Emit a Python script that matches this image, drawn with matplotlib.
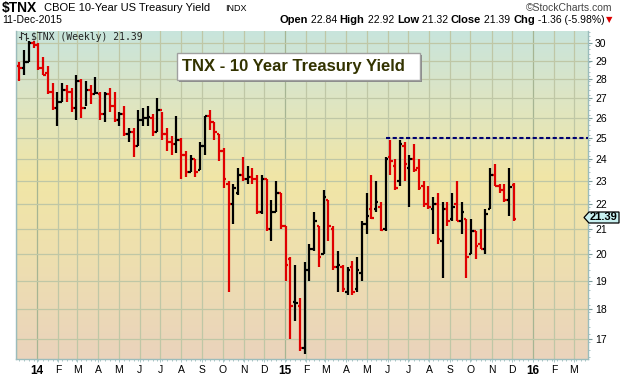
import numpy as np
import pandas as pd
import matplotlib
matplotlib.use('Agg')
import matplotlib.pyplot as plt
import matplotlib.dates as mdates
from matplotlib.colors import LinearSegmentedColormap
from matplotlib.patches import Rectangle, Polygon
from matplotlib.lines import Line2D

plt.rcParams['font.family'] = ['Liberation Sans', 'DejaVu Sans']

# weekly bars, week starting Monday 9-Dec-2013 .. 7-Dec-2015 (TNX = yield x 10)
week_start = pd.date_range('2013-12-09', periods=105, freq='7D')

opens = [28.7, 28.6, 28.9, 30.0, 29.9, 28.6, 28.3, 27.3, 26.5, 26.8,
         27.4, 27.3, 26.5, 27.9, 26.5, 27.4, 27.2, 27.2, 26.2, 27.2,
         26.6, 25.9, 26.2, 25.2, 25.3, 24.6, 25.9, 26.0, 26.0, 25.3,
         26.4, 25.2, 24.8, 24.7, 24.9, 24.2, 23.4, 24.0, 23.5, 24.6,
         26.1, 25.8, 25.2, 24.4, 22.9, 22.0, 22.5, 23.3, 23.1, 23.2,
         23.1, 21.7, 23.1, 21.0, 21.7, 22.5, 21.1, 19.8, 18.25, 18.1,
         16.7, 19.4, 20.2, 21.1, 20.0, 22.2, 21.0, 19.5, 19.5, 18.6,
         19.5, 18.7, 19.3, 21.2, 21.8, 21.8, 21.9, 21.0, 24.1, 23.7,
         23.0, 24.6, 23.6, 24.0, 23.6, 22.8, 22.0, 21.8, 22.0, 20.5,
         21.8, 21.4, 22.0, 21.3, 21.4, 20.0, 20.9, 20.4, 20.2, 21.8,
         23.3, 22.8, 22.6, 22.2, 22.84]
highs = [28.9, 29.6, 30.1, 30.1, 30.0, 29.2, 28.7, 27.8, 27.3, 27.8,
         27.7, 27.5, 28.2, 28.0, 27.9, 27.7, 28.1, 27.3, 27.3, 27.5,
         27.3, 26.3, 26.6, 25.5, 25.5, 26.4, 26.5, 26.6, 26.2, 27.0,
         26.3, 25.5, 25.1, 26.1, 25.0, 24.4, 24.2, 24.0, 24.8, 26.1,
         26.4, 25.8, 25.2, 24.5, 23.0, 22.9, 23.6, 24.1, 23.7, 23.6,
         23.3, 23.3, 23.1, 22.2, 23.0, 22.5, 21.1, 19.9, 19.6, 18.4,
         19.7, 20.4, 21.7, 21.1, 22.6, 22.2, 21.1, 20.1, 19.6, 19.5,
         19.75, 19.9, 21.3, 22.5, 23.3, 23.0, 22.1, 24.1, 24.9, 24.0,
         24.9, 24.8, 24.2, 24.7, 24.0, 23.0, 22.8, 22.3, 22.5, 22.1,
         22.1, 22.5, 23.0, 22.1, 21.4, 21.4, 20.9, 21.0, 21.8, 23.6,
         23.8, 22.9, 22.9, 23.6, 22.92]
lows = [27.9, 28.2, 28.9, 29.7, 28.5, 28.2, 27.2, 26.4, 25.6, 26.8,
        26.8, 26.3, 25.9, 26.0, 26.6, 26.7, 27.2, 25.9, 25.8, 26.3,
        25.8, 25.6, 25.1, 24.8, 24.1, 24.6, 25.6, 25.6, 25.1, 25.3,
        24.9, 24.4, 24.2, 24.3, 23.1, 23.2, 23.4, 23.2, 23.5, 24.2,
        25.4, 24.9, 23.9, 22.7, 18.6, 21.2, 22.4, 23.0, 22.9, 22.9,
        21.6, 21.6, 20.9, 20.5, 21.7, 21.0, 19.0, 17.0, 17.6, 16.6,
        16.5, 19.0, 20.1, 19.5, 20.0, 20.5, 19.4, 18.6, 18.6, 18.5,
        18.5, 18.6, 19.0, 20.8, 21.4, 21.7, 20.9, 20.9, 23.3, 22.6,
        22.8, 23.0, 21.9, 23.4, 22.6, 21.9, 21.8, 20.8, 20.4, 19.1,
        21.1, 21.3, 21.3, 20.8, 19.1, 20.0, 19.8, 20.2, 20.0, 21.8,
        22.8, 22.5, 22.1, 21.5, 21.32]
closes = [28.6, 28.9, 30.0, 29.9, 28.6, 28.2, 27.3, 26.5, 26.8, 27.4,
          27.3, 26.5, 27.9, 26.5, 27.4, 27.2, 27.25, 26.2, 27.2, 26.6,
          25.9, 26.2, 25.2, 25.3, 24.6, 25.9, 26.0, 26.05, 25.3, 26.4,
          25.2, 24.8, 24.7, 24.9, 24.2, 23.4, 24.0, 23.4, 24.6, 26.1,
          25.8, 25.3, 24.4, 23.1, 22.0, 22.7, 23.3, 23.1, 23.2, 23.1,
          21.7, 23.1, 21.0, 21.7, 22.5, 21.1, 19.6, 18.1, 18.2, 16.7,
          19.4, 20.2, 21.3, 19.9, 22.3, 21.1, 19.5, 19.6, 18.7, 19.4,
          18.6, 19.4, 21.2, 21.5, 21.45, 22.1, 20.95, 24.0, 23.9, 22.7,
          24.7, 23.8, 24.0, 23.5, 22.7, 22.0, 21.9, 22.0, 20.6, 21.8,
          21.3, 21.9, 21.3, 21.7, 19.9, 20.9, 20.3, 20.2, 21.6, 23.3,
          22.8, 22.6, 22.2, 22.75, 21.39]
prev_close = 28.8

resistance_level = 25.0
resistance_start = '2015-05-29'

y_ticks = list(range(17, 31))
chart_title = 'TNX - 10 Year Treasury Yield'
legend_text = '$TNX (Weekly) 21.39'
last_label = '21.39'
header_pieces = [('Open', 'bold'), (' 22.84 ', 'normal'), ('High', 'bold'), (' 22.92 ', 'normal'),
                 ('Low', 'bold'), (' 21.32 ', 'normal'), ('Close', 'bold'), (' 21.39 ', 'normal'),
                 ('Chg', 'bold'), (' -1.36 (-5.98%)', 'normal')]

W, H = 620, 376
fig = plt.figure(figsize=(W / 100, H / 100), dpi=100)
fig.patch.set_facecolor('white')

def fx(px):
    return px / W

def fy(py):
    return 1 - py / H

left, right, top, bottom = 16, 588, 31, 359
ax = fig.add_axes([fx(left), fy(bottom), fx(right - left), (bottom - top) / H])

# gradient background
cmap = LinearSegmentedColormap.from_list('bg', [(0.0, '#ead3bc'), (0.33, '#eee0ae'), (0.55, '#f1e6a6'),
                                                (0.8, '#dde5c4'), (1.0, '#c8e4dc')])
grad = np.linspace(0, 1, 256).reshape(-1, 1)
ax.imshow(grad, cmap=cmap, aspect='auto', extent=[0, 1, 0, 1], origin='lower',
          transform=ax.transAxes, zorder=0)

ax.set_yscale('log')
ax.set_ylim(16.35, 30.7)
ax.set_xlim(mdates.date2num(pd.Timestamp('2013-12-01')), mdates.date2num(pd.Timestamp('2016-03-22')))

# grid
months = pd.date_range('2013-12-01', '2016-03-01', freq='MS')
for m in months:
    xm = mdates.date2num(m)
    col = '#a6b593' if m.month == 1 else '#bfc7a6'
    ax.axvline(xm, color=col, lw=0.9, zorder=1)
for v in y_ticks:
    ax.axhline(v, color='#bfc7a6', lw=0.9, zorder=1)

# OHLC bars
x = mdates.date2num(week_start - pd.Timedelta(days=3))
c = np.array(closes)
prior = np.r_[prev_close, c[:-1]]
colors = np.where(c >= prior, 'black', '#e00000')
lw = 1.6
ax.vlines(x, lows, highs, colors=colors, lw=lw, zorder=3, capstyle='butt')
ax.hlines(opens, x - 3.6, x, colors=colors, lw=lw, zorder=3, capstyle='butt')
ax.hlines(closes, x, x + 3.6, colors=colors, lw=lw, zorder=3, capstyle='butt')

# resistance line
ax.hlines(resistance_level, mdates.date2num(pd.Timestamp(resistance_start)), ax.get_xlim()[1],
          colors='#000070', lw=1.5, linestyles=(0, (2, 1.2)), zorder=4)

# axes cosmetics
for s in ax.spines.values():
    s.set_color('#9bbcbc')
    s.set_linewidth(1.0)
ax.spines['top'].set_visible(False)
ax.yaxis.tick_right()
ax.set_yticks(y_ticks)
ax.set_yticklabels([str(v) for v in y_ticks])
ax.yaxis.set_minor_locator(matplotlib.ticker.FixedLocator(np.arange(16.4, 30.7, 0.25)))
ax.yaxis.set_minor_formatter(matplotlib.ticker.NullFormatter())
ax.tick_params(axis='y', which='major', length=3, width=0.8, color='#7a9a9a', pad=2, labelsize=7.5)
ax.tick_params(axis='y', which='minor', length=1.5, width=0.6, color='#9bbcbc')

tick_months = [m for m in months if m >= pd.Timestamp('2014-01-01')]
ax.set_xticks(mdates.date2num(tick_months))
ax.set_xticklabels([m.strftime('%y') if m.month == 1 else m.strftime('%b')[0] for m in tick_months])
for lab, m in zip(ax.get_xticklabels(), tick_months):
    if m.month == 1:
        lab.set_fontweight('bold')
        lab.set_fontsize(8.5)
    else:
        lab.set_fontsize(7.5)
ax.xaxis.set_minor_locator(matplotlib.ticker.FixedLocator(
    mdates.date2num(pd.date_range('2013-12-06', '2016-03-20', freq='7D'))))
ax.tick_params(axis='x', which='major', length=2, width=0.6, color='#9bbcbc', pad=2)
ax.tick_params(axis='x', which='minor', length=1.5, width=0.6, color='#9bbcbc')

# legend text inside the plot
fig.text(fx(31), fy(31.5), legend_text, ha='left', va='top',
         family='DejaVu Sans Mono', fontsize=7, color='#222222', zorder=5)
for dx, y0, y1, yo, yc in [(0, 32, 39, 37, 33), (5, 33, 40, 34, 38)]:
    xx = 21 + dx
    fig.add_artist(Line2D([fx(xx), fx(xx)], [fy(y0), fy(y1)], color='#333333', lw=0.8))
    fig.add_artist(Line2D([fx(xx - 1.5), fx(xx)], [fy(yo), fy(yo)], color='#333333', lw=0.8))
    fig.add_artist(Line2D([fx(xx), fx(xx + 1.5)], [fy(yc), fy(yc)], color='#333333', lw=0.8))

# title box
bx0, by0, bx1, by1 = 177, 53, 420, 80
fig.add_artist(Rectangle((fx(bx0 + 2), fy(by1 + 2)), fx(bx1 - bx0), (by1 - by0) / H,
                         facecolor='#8a8a8a', edgecolor='none', transform=fig.transFigure, zorder=6))
fig.add_artist(Rectangle((fx(bx0), fy(by1)), fx(bx1 - bx0), (by1 - by0) / H,
                         facecolor='white', edgecolor='#a0a0a0', lw=1, transform=fig.transFigure, zorder=7))
fig.text(fx(293), fy((by0 + by1) / 2 + 0.5), chart_title, ha='center', va='center',
         fontsize=12, fontweight='bold', color='#333300', zorder=8)

# last value tag
py = 217.5
tag = Polygon([(fx(584), fy(py)), (fx(589), fy(py - 5.5)), (fx(619), fy(py - 5.5)),
               (fx(619), fy(py + 5.5)), (fx(589), fy(py + 5.5))], closed=True,
              facecolor='#c8f0f0', edgecolor='black', lw=0.9, transform=fig.transFigure, zorder=9)
fig.add_artist(tag)
fig.text(fx(604), fy(py), last_label, ha='center', va='center', fontsize=8, fontweight='bold', zorder=10)

# header
fig.text(fx(2), fy(8), '$TNX', ha='left', va='center', fontsize=10, fontweight='bold')
fig.text(fx(44), fy(8), 'CBOE 10-Year US Treasury Yield', ha='left', va='center', fontsize=8)
fig.text(fx(225), fy(8.5), 'INDX', ha='left', va='center', fontsize=6.5)
fig.text(fx(612), fy(8), '\u00a9StockCharts.com', ha='right', va='center', fontsize=7.5, color='#444444')
fig.text(fx(2), fy(20), '11-Dec-2015', ha='left', va='center', fontsize=7.5)

renderer = fig.canvas.get_renderer()
xr = 612
t = fig.text(fx(xr), fy(20), '\u25bc', ha='right', va='center', fontsize=6, color='#dd0000',
             family=['DejaVu Sans'])
xr -= t.get_window_extent(renderer).width + 1
for s, wgt in reversed(header_pieces):
    t = fig.text(fx(xr), fy(20), s, ha='right', va='center', fontsize=8 if wgt == 'bold' else 7.5,
                 fontweight=wgt)
    xr -= t.get_window_extent(renderer).width

fig.savefig('out.png', dpi=100)
